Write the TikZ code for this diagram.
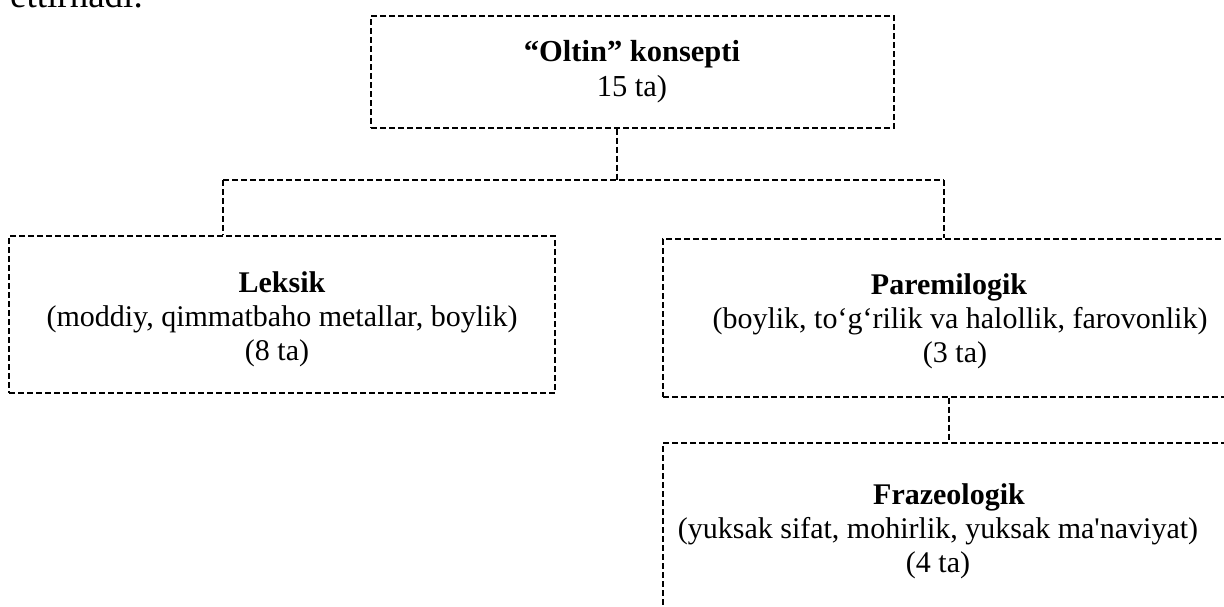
\documentclass[tikz,border=0pt]{standalone}
\usepackage{fontspec}
\setmainfont{Liberation Serif}[Ligatures=TeXOff]
\begin{document}
\begin{tikzpicture}[x=1pt,y=-1pt,
  dbox/.style={draw, dash pattern=on 6pt off 3pt, line width=1.1pt, rectangle, inner sep=0pt},
  dtext/.style={anchor=north, inner sep=0pt, align=center, font=\fontsize{30}{34}\selectfont},
  dline/.style={draw, dash pattern=on 6pt off 3pt, line width=1.1pt}]
\useasboundingbox (0,0) rectangle (1224,606);
\clip (0,0) rectangle (1224,606);
\node[anchor=base west, inner sep=0pt, font=\fontsize{37}{40}\selectfont] (cap) at (10,7) {ettirnadi.};
\node[dbox, minimum width=523pt, minimum height=112pt] (top) at (632.5,72) {};
\node[dbox, minimum width=546pt, minimum height=157pt] (lek) at (282,314.5) {};
\node[dbox, minimum width=587pt, minimum height=158pt] (par) at (956.5,318) {};
\node[dbox, minimum width=587pt, minimum height=200pt] (fraz) at (956.5,543) {};
\node[dtext, font=\fontsize{30.5}{35}\selectfont] (topt) at (632,40) {\textbf{“Oltin” konsepti}\\15 ta)};
\node[dtext] (lekt) at (282,271) {\textbf{Leksik}\\(moddiy, qimmatbaho metallar, boylik)\\(8 ta)\kern10pt};
\node[dtext] (part) at (960,273) {\textbf{Paremilogik}\kern22pt\\(boylik, to‘g‘rilik va halollik, farovonlik)\\(3 ta)\kern10pt};
\node[dtext] (frazt) at (938,483) {\kern22pt\textbf{Frazeologik}\\(yuksak sifat, mohirlik, yuksak ma'naviyat)\\(4 ta)};
\coordinate (hub) at (617,180);
\coordinate (hubL) at (223,180);
\coordinate (hubR) at (944,180);
\draw[dline] (top.south -| hub) -- (hub);
\draw[dline] (hubL) -- (hubR);
\draw[dline] (hubL) -- (hubL |- lek.north);
\draw[dline] (hubR) -- (hubR |- par.north);
\draw[dline] ([xshift=-7.5pt]par.south) -- ([xshift=-7.5pt]fraz.north);
\end{tikzpicture}
\end{document}
